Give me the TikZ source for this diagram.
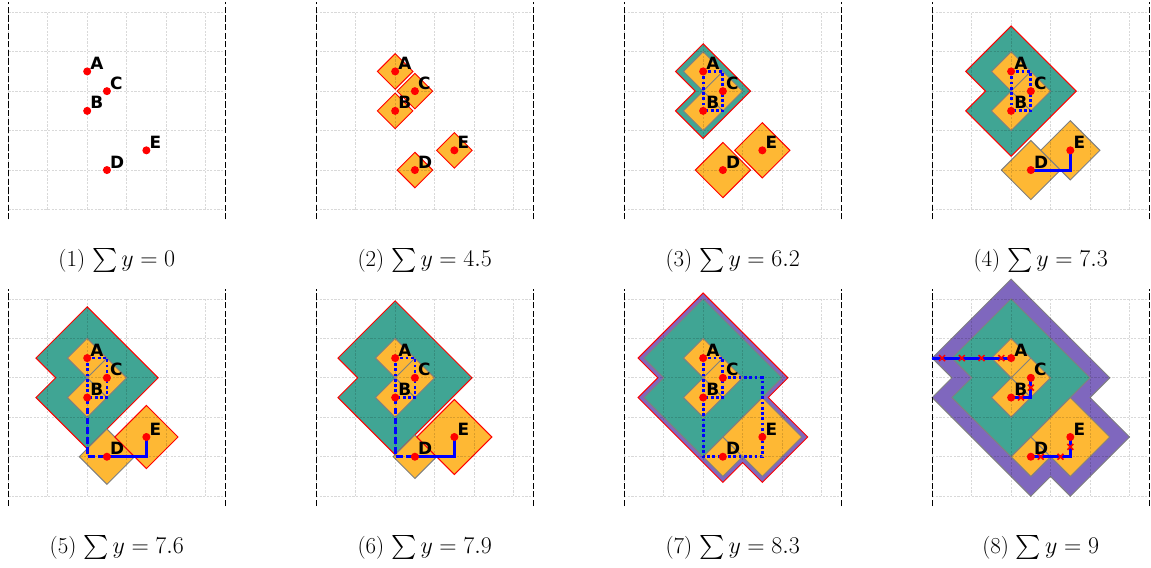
\documentclass[tikz,border=0pt]{standalone}
\usepackage{amsmath}
\usepackage{fontspec}
\newfontfamily\lblfont{DejaVu Sans}
\usepackage{tikz}
\usetikzlibrary{positioning}

\definecolor{ornfill}{RGB}{254,184,52}
\definecolor{moatclr}{RGB}{64,165,148}
\definecolor{bandclr}{RGB}{127,103,190}

% L1 ball of radius #3 round (#1,#2)
\newcommand{\dmd}[3]{(#1,{#2+#3}) -- ({#1+#3},#2) -- (#1,{#2-#3}) -- ({#1-#3},#2) -- cycle}
% union of the balls of radius #1 round A, B, C
\newcommand{\hexabc}[1]{(4,{7+#1}) -- ({5+#1},6) -- (4,{5-#1}) -- ({4-#1},5) -- ({5-#1},6) -- ({4-#1},7) -- cycle}
% moat of width #1 round everything
\newcommand{\hull}[1]{(4,{10+#1}) -- ({8+#1},6) -- ({7+#1},5) -- ({9+#1},3) -- (7,{1-#1}) -- (6,{2-#1}) -- (5,{1-#1}) -- ({1-#1},5) -- ({2-#1},6) -- ({1-#1},7) -- cycle}
\newcommand{\setpts}{%
  \coordinate (A) at (4,7); \coordinate (B) at (4,5); \coordinate (C) at (5,6);
  \coordinate (D) at (5,2); \coordinate (E) at (7,3);}
\newcommand{\abcinner}{\filldraw[orng, idle] \dmd{4}{7}{1} \dmd{4}{5}{1} \dmd{5}{6}{1};}
\newcommand{\panelgrid}{%
  \draw[gridln] (0,0) grid (11,10);
  \draw[sideline] (0,-0.5) -- (0,10.5) (11,-0.5) -- (11,10.5);}
\newcommand{\drawpts}[1]{%
  \foreach \p in {A,B,C,D,E}{
    \node[dot] (p#1\p) at (\p) {};
    \node[lbl] (l#1\p) at ([shift={(0.15,0.1)}]\p) {\p};
  }}
\newcommand{\xm}[1]{\draw[xmk] #1 +(-0.15,-0.15) -- +(0.15,0.15) #1 +(-0.15,0.15) -- +(0.15,-0.15);}

\begin{document}
\begin{tikzpicture}[x=0.5cm, y=0.5cm,
  gridln/.style={black, draw opacity=0.15, line width=0.45pt, dash pattern=on 1.6pt off 1pt},
  sideline/.style={black, line width=1pt, dash pattern=on 4.5pt off 1.7pt},
  act/.style={draw=red, line width=0.7pt},
  idle/.style={draw=gray, line width=0.7pt},
  orng/.style={fill=ornfill},
  ring/.style={fill=moatclr},
  band/.style={fill=bandclr},
  dot/.style={circle, fill=red, inner sep=0pt, minimum size=5.8pt},
  lbl/.style={font=\lblfont\bfseries\fontsize{12.2}{14}\selectfont, inner sep=0pt, anchor=base west},
  captxt/.style={font=\fontsize{16.5}{19}\selectfont},
  walk/.style={blue, line width=2.1pt},
  slack/.style={blue, line width=2.1pt, dash pattern=on 5pt off 2.2pt},
  tightln/.style={blue, line width=2pt, dash pattern=on 2pt off 1.8pt},
  xmk/.style={red, line width=1.1pt}]

  \useasboundingbox (0,0) rectangle (58.34,28.74);

  % ---- top row ----
  \begin{scope}[shift={(0.42,18.12)}]
    \setpts
    \panelgrid
    \drawpts{1}
    \node[captxt] (cap1) at (5.5,-2.58) {(1) $\sum y = 0$};
  \end{scope}

  \begin{scope}[shift={(16.03,18.12)}]
    \setpts
    \filldraw[orng, act] \dmd{4}{7}{0.9} \dmd{4}{5}{0.9} \dmd{5}{6}{0.9};
    \filldraw[orng, act] \dmd{5}{2}{0.9} \dmd{7}{3}{0.9};
    \panelgrid
    \drawpts{2}
    \node[captxt] (cap2) at (5.5,-2.58) {(2) $\sum y = 4.5$};
  \end{scope}

  \begin{scope}[shift={(31.64,18.12)}]
    \setpts
    \filldraw[ring, act] \hexabc{1.4};
    \abcinner
    \filldraw[orng, act] \dmd{5}{2}{1.4} \dmd{7}{3}{1.4};
    \panelgrid
    \draw[tightln] (A) -| (C) |- (B) -- cycle;
    \drawpts{3}
    \node[captxt] (cap3) at (5.5,-2.58) {(3) $\sum y = 6.2$};
  \end{scope}

  \begin{scope}[shift={(47.25,18.12)}]
    \setpts
    \filldraw[ring, act] \hexabc{2.3};
    \abcinner
    \filldraw[orng, idle] \dmd{5}{2}{1.5} \dmd{7}{3}{1.5};
    \panelgrid
    \draw[tightln] (A) -| (C) |- (B) -- cycle;
    \draw[walk] (D) -| (E);
    \drawpts{4}
    \node[captxt] (cap4) at (5.5,-2.58) {(4) $\sum y = 7.3$};
  \end{scope}

  % ---- bottom row ----
  \begin{scope}[shift={(0.42,3.59)}]
    \setpts
    \filldraw[ring, act] \hexabc{2.6};
    \abcinner
    \filldraw[orng, idle] \dmd{5}{2}{1.4};
    \filldraw[orng, act] \dmd{7}{3}{1.6};
    \panelgrid
    \draw[tightln] (A) -| (C) |- (B) -- cycle;
    \draw[slack] (B) |- (D);
    \draw[walk] (D) -| (E);
    \drawpts{5}
    \node[captxt] (cap5) at (5.5,-2.58) {(5) $\sum y = 7.6$};
  \end{scope}

  \begin{scope}[shift={(16.03,3.59)}]
    \setpts
    \filldraw[ring, act] \hexabc{2.9};
    \abcinner
    \filldraw[orng, idle] \dmd{5}{2}{1.1};
    \filldraw[orng, act] \dmd{7}{3}{1.9};
    \panelgrid
    \draw[tightln] (A) -| (C) |- (B) -- cycle;
    \draw[slack] (B) |- (D);
    \draw[walk] (D) -| (E);
    \drawpts{6}
    \node[captxt] (cap6) at (5.5,-2.58) {(6) $\sum y = 7.9$};
  \end{scope}

  \begin{scope}[shift={(31.64,3.59)}]
    \setpts
    \filldraw[band, act] \hull{0.3};
    \filldraw[ring, idle] \hexabc{3};
    \abcinner
    \filldraw[orng, idle] \dmd{7}{3}{2} \dmd{5}{2}{1};
    \panelgrid
    \draw[tightln] (A) -| (C) |- (B) -- cycle;
    \draw[tightln] (C) -| (E) (D) -| (E) (B) |- (D);
    \drawpts{7}
    \node[captxt] (cap7) at (5.5,-2.58) {(7) $\sum y = 8.3$};
  \end{scope}

  \begin{scope}[shift={(47.25,3.59)}]
    \setpts
    \coordinate (W) at (0,7);
    \filldraw[band, idle] \hull{1};
    \filldraw[ring, idle] \hexabc{3};
    \abcinner
    \filldraw[orng, idle] \dmd{7}{3}{2} \dmd{5}{2}{1};
    \panelgrid
    \draw[walk] (A) -- (W);
    \draw[walk] (C) |- (B);
    \draw[walk] (D) -| (E);
    \foreach \q in {(0.5,7),(1.5,7),(2.5,7),(3.5,7),(5,5.5),(4.5,5),(5.5,2),(6.5,2),(7,2.5)}
      {\xm{\q}}
    \drawpts{8}
    \node[captxt] (cap8) at (5.5,-2.58) {(8) $\sum y = 9$};
  \end{scope}

\end{tikzpicture}
\end{document}
